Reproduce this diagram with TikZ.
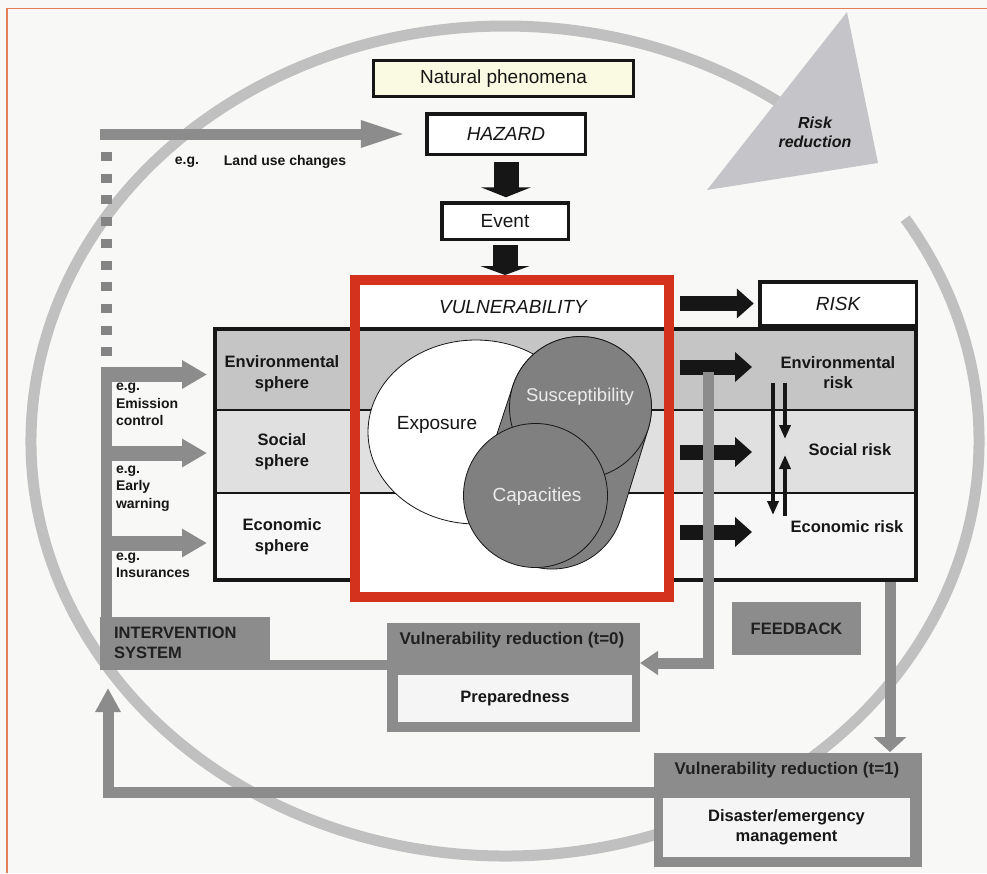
\documentclass[tikz,border=0pt]{standalone}
\usepackage{fontspec}
\setmainfont{Liberation Sans}
\usetikzlibrary{arrows.meta}

\definecolor{bgc}{RGB}{248,248,246}
\definecolor{framec}{RGB}{228,128,88}
\definecolor{ringc}{RGB}{192,192,192}
\definecolor{tric}{RGB}{197,197,201}
\definecolor{inkc}{RGB}{22,22,22}
\definecolor{greyc}{RGB}{140,140,140}
\definecolor{dotc}{RGB}{132,132,132}
\definecolor{greytxt}{RGB}{32,32,32}
\definecolor{envc}{RGB}{197,197,197}
\definecolor{socc}{RGB}{224,224,224}
\definecolor{ecoc}{RGB}{247,247,247}
\definecolor{natc}{RGB}{250,250,226}
\definecolor{redc}{RGB}{212,50,28}
\definecolor{venc}{RGB}{128,128,128}
\definecolor{venntxt}{RGB}{236,236,236}
\definecolor{panec}{RGB}{245,245,245}

\newcommand\szXL{\fontsize{19}{22}\selectfont}
\newcommand\szL{\fontsize{16.5}{21}\selectfont}
\newcommand\szS{\fontsize{14}{17.5}\selectfont}

\begin{document}
\begin{tikzpicture}[x=1pt,y=-1pt,
  every node/.style={inner sep=0pt, outer sep=0pt, text=inkc},
  blackbox/.style={draw=inkc, line width=3.5pt, fill=white, font=\szXL},
  greybox/.style={fill=greyc},
  pane/.style={fill=panec, font=\szL\bfseries, align=center},
  lbl/.style={font=\szL\bfseries, align=center},
  eg/.style={font=\szS\bfseries, align=left, anchor=west},
  blk/.style={draw=inkc, line width=#1, line cap=butt},
  gry/.style={draw=greyc, line width=#1, line cap=butt, line join=miter},
  ring/.style={draw=ringc, line width=11pt},
  venn/.style={draw=inkc, line width=0.8pt, fill=venc},
]
\useasboundingbox (0,0) rectangle (987,873);
\fill[bgc] (0,0) rectangle (987,873);
\draw[framec, line width=1.6pt] (7,873) -- (7,8.5) -- (987,8.5);

% risk-reduction cycle
\draw[ring] ([shift={(-32.4:474 and 415)}]505,441)
  arc[start angle=-32.4, end angle=307, x radius=474, y radius=415];
\fill[tric] (847,12) -- (878,163) -- (707,190) -- cycle;
\node[font=\fontsize{16}{19}\selectfont\bfseries\itshape, align=center] (rr) at (815,132) {Risk\\reduction};

% hazard chain
\node[blackbox, fill=natc, minimum width=260, minimum height=36] (nat) at (503.5,78.5) {Natural phenomena};
\node[blackbox, minimum width=158.5, minimum height=40.5, font=\szXL\itshape] (haz) at (506,134) {HAZARD};
\node[blackbox, minimum width=126.5, minimum height=36.5] (evt) at (505,221) {Event};

% spheres / risks table
\fill[envc] (213,327) rectangle (918,410);
\fill[socc] (213,410) rectangle (918,493);
\fill[ecoc] (213,493) rectangle (918,582);
\fill[white] (360,285) rectangle (664,327);
\draw[inkc, line width=1.3pt] (213,410) -- (918,410) (213,493) -- (918,493);
\draw[inkc, line width=4pt] (215,329) rectangle (916,580);
\fill[white] (360,494.5) rectangle (664,592);

% exposure / susceptibility / capacities
\filldraw[draw=inkc, line width=0.8pt, fill=white] (476,432) ellipse [x radius=108, y radius=92];
\filldraw[venn] (648.2,429.0) -- (620.6,518.9) arc[start angle=17.7, end angle=197.7, radius=72]
  -- (512.8,386.0) arc[start angle=197.7, end angle=377.7, radius=71] -- cycle;
\filldraw[venn] (580.5,407.5) circle[radius=71];
\filldraw[venn] (535.5,495.5) circle[radius=72];
\node[font=\szXL] (expo) at (437,425) {Exposure};
\node[font=\fontsize{18.5}{22}\selectfont, text=venntxt] (susc) at (580,397) {Susceptibility};
\node[font=\szXL, text=venntxt] (capa) at (537,497) {Capacities};

% vulnerability frame and risk box
\node[draw=redc, line width=10pt, minimum width=314, minimum height=317] (vul) at (512,438.5) {};
\node[font=\szXL\itshape] (vult) at (513,307) {VULNERABILITY};
\node[blackbox, minimum width=156.5, minimum height=43.5, font=\szXL\itshape] (risk) at (838,303.5) {RISK};

% row labels
\node[lbl] (envs) at (282,374) {Environmental\\sphere};
\node[lbl] (socs) at (282,452) {Social\\sphere};
\node[lbl] (ecos) at (282,537) {Economic\\sphere};
\node[lbl, font=\fontsize{16.5}{20}\selectfont\bfseries] (envr) at (838,373) {Environmental\\risk};
\node[lbl] (socr) at (850,450) {Social risk};
\node[lbl] (ecor) at (847,527) {Economic risk};

% black flow arrows
\draw[blk=25pt, -{Triangle[width=50pt,length=10pt]}, shorten <=8pt, shorten >=5.5pt]
  (haz.south) -- (haz.south |- evt.north);
\draw[blk=25pt, -{Triangle[width=49pt,length=9pt]}, shorten <=6pt, shorten >=5pt]
  (evt.south) -- (evt.south |- vul.north);
\draw[blk=15pt, -{Triangle[width=29pt,length=17pt]}, shorten >=6pt]
  (vul.east |- risk.west) ++(11,0) -- (risk.west);
\coordinate (vE) at (680,367); \coordinate (rE) at (752,367);
\coordinate (vS) at (680,452); \coordinate (rS) at (752,452);
\coordinate (vC) at (680,532); \coordinate (rC) at (752,532);
\draw[blk=15pt, -{Triangle[width=29pt,length=17pt]}] (vE) -- (rE);
\draw[blk=15pt, -{Triangle[width=29pt,length=17pt]}] (vS) -- (rS);
\draw[blk=15pt, -{Triangle[width=29pt,length=17pt]}] (vC) -- (rC);

% interactions between risks
\coordinate (k1) at (773,383); \coordinate (k2) at (773,515);
\coordinate (k3) at (785,383); \coordinate (k4) at (785,439);
\coordinate (k5) at (785,516); \coordinate (k6) at (785,455);
\draw[blk=4pt, -{Triangle[width=11pt,length=14pt]}] (k1) -- (k2);
\draw[blk=4pt, -{Triangle[width=11pt,length=14pt]}] (k3) -- (k4);
\draw[blk=4pt, -{Triangle[width=11pt,length=14pt]}] (k5) -- (k6);

% intervention and feedback boxes
\node[greybox, minimum width=170, minimum height=53] (int) at (185,643.5) {};
\node[font=\fontsize{16.5}{20}\selectfont\bfseries, text=greytxt, align=left, anchor=west] (intt) at (114,643) {INTERVENTION\\SYSTEM};
\node[greybox, minimum width=129, minimum height=53, font=\szL\bfseries, text=greytxt] (fb) at (796.5,628.5) {FEEDBACK};

\node[greybox, minimum width=253, minimum height=109] (vr0) at (513.5,677.5) {};
\node[font=\fontsize{17}{20}\selectfont\bfseries, text=greytxt] (vr0t) at (512,640) {Vulnerability reduction (t=0)};
\node[pane, minimum width=234, minimum height=47] (vr0p) at (515,698.5) {Preparedness};

\node[greybox, minimum width=268, minimum height=114] (vr1) at (788,810) {};
\node[font=\fontsize{17}{20}\selectfont\bfseries, text=greytxt] (vr1t) at (787,770) {Vulnerability reduction (t=1)};
\node[pane, minimum width=247, minimum height=59, font=\fontsize{16.5}{20}\selectfont\bfseries] (vr1p) at (786.5,827.5) {Disaster/emergency\\management};

% grey feedback and intervention paths
\coordinate (fbTop) at (708,372); \coordinate (fbEnd) at (640,663);
\draw[gry=11pt, -{Triangle[width=23pt,length=18pt]}] (fbTop) |- (fbEnd);
\coordinate (fbR) at (890,582);
\draw[gry=11pt, -{Triangle[width=32pt,length=15pt]}, shorten >=1pt] (fbR) -- (fbR |- vr1.north);
\coordinate (loopY) at (0,792); \coordinate (upTip) at (108,688);
\draw[gry=11pt, -{Triangle[width=24pt,length=24pt]}] (vr1.west |- loopY) -| (upTip);
\coordinate (linkY) at (0,665);
\draw[gry=10pt] (vr0.west |- linkY) -- (int.east |- linkY);

% intervention measures
\coordinate (barBot) at (106,617); \coordinate (barTop) at (106,367);
\draw[gry=11pt] (barBot) -- (barTop);
\coordinate (lE) at (100.5,374.5); \coordinate (aE) at (207,374.5);
\coordinate (lS) at (100.5,453); \coordinate (aS) at (207,453);
\coordinate (lC) at (100.5,543); \coordinate (aC) at (207,543);
\draw[gry=15pt, -{Triangle[width=27pt,length=25pt]}] (lE) -- (aE);
\draw[gry=15pt, -{Triangle[width=27pt,length=25pt]}] (lS) -- (aS);
\draw[gry=15pt, -{Triangle[width=27pt,length=25pt]}] (lC) -- (aC);
\coordinate (dotTop) at (106,152); \coordinate (dotBot) at (106,358);
\draw[dotc, line width=11pt, dash pattern=on 9pt off 12.7pt] (dotTop) -- (dotBot);
\coordinate (luS) at (100,134);
\draw[gry=11pt, -{Triangle[width=24pt,length=47pt]}, shorten >=19pt] (luS) -- (haz.west);

\node[font=\szS\bfseries] (eg0) at (187,162) {e.g.};
\node[font=\szS\bfseries] (lu) at (285,162) {Land use changes};
\node[eg] (eg1) at (116,404.5) {e.g.\\Emission\\control};
\node[eg] (eg2) at (116,488.5) {e.g.\\Early\\warning};
\node[eg] (eg3) at (116,565.5) {e.g.\\Insurances};
\end{tikzpicture}
\end{document}
